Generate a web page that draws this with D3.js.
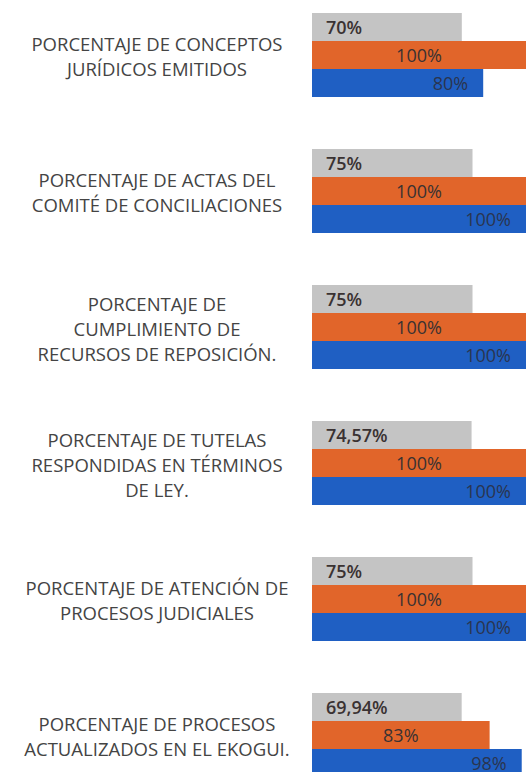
<!DOCTYPE html>
<html>
<head>
<meta charset="utf-8">
<script src="https://cdn.jsdelivr.net/npm/d3@7"></script>
<style>
  html, body { margin: 0; padding: 0; background: #fff; }
  svg { display: block; }
</style>
</head>
<body>
<svg id="chart" width="526" height="772"></svg>
<script>
// indicadores (cada etiqueta partida en lineas)
var categorias = [
    ["PORCENTAJE DE CONCEPTOS", "JURÍDICOS EMITIDOS"],
    ["PORCENTAJE DE ACTAS DEL", "COMITÉ DE CONCILIACIONES"],
    ["PORCENTAJE DE", "CUMPLIMIENTO DE", "RECURSOS DE REPOSICIÓN."],
    ["PORCENTAJE DE TUTELAS", "RESPONDIDAS EN TÉRMINOS", "DE LEY."],
    ["PORCENTAJE DE ATENCIÓN DE", "PROCESOS JUDICIALES"],
    ["PORCENTAJE DE PROCESOS", "ACTUALIZADOS EN EL EKOGUI."]
];
var serieGris = [70, 75, 75, 74.57, 75, 69.94];
var serieNaranja = [100, 100, 100, 100, 100, 83];
var serieAzul = [80, 100, 100, 100, 100, 98];
var series = ["gris", "naranja", "azul"];

var svg = d3.select("#chart");
var fmt = function (v) {
    return (Math.round(v * 100) / 100).toString().replace(".", ",") + "%";
};

// escalas
var x = d3.scaleLinear().domain([0, 100]).range([312, 526]);
var y = d3.scaleBand()
    .domain(d3.range(categorias.length))
    .range([13, 777])
    .paddingInner(52 / 136)
    .paddingOuter(0);
var ySub = d3.scaleBand().domain(series).range([0, y.bandwidth()]);
var color = d3.scaleOrdinal().domain(series).range(["#c4c4c4", "#e1652a", "#1f5fc3"]);

var filas = categorias.map(function (c, i) {
    return {
        i: i,
        lineas: c,
        valores: [
            { s: "gris", v: serieGris[i] },
            { s: "naranja", v: serieNaranja[i] },
            { s: "azul", v: serieAzul[i] }
        ]
    };
});

var g = svg.selectAll("g.grupo")
    .data(filas)
  .enter().append("g")
    .attr("class", "grupo")
    .attr("transform", function (d) { return "translate(0," + y(d.i) + ")"; });

// barras
g.selectAll("rect")
    .data(function (d) { return d.valores; })
  .enter().append("rect")
    .attr("x", x(0))
    .attr("y", function (d) { return ySub(d.s); })
    .attr("width", function (d) { return x(d.v) - x(0); })
    .attr("height", ySub.bandwidth())
    .attr("fill", function (d) { return color(d.s); });

// etiquetas de valor
g.selectAll("text.valor")
    .data(function (d) { return d.valores; })
  .enter().append("text")
    .attr("class", "valor")
    .attr("x", function (d) {
        if (d.s == "gris") return x(0) + 14;
        if (d.s == "naranja") return (x(0) + x(d.v)) / 2;
        return x(d.v) - 15;
    })
    .attr("y", function (d) { return ySub(d.s) + ySub.bandwidth() / 2 + 6.5; })
    .attr("text-anchor", function (d) {
        return d.s == "gris" ? "start" : (d.s == "naranja" ? "middle" : "end");
    })
    .style("font-family", "'Open Sans', sans-serif")
    .style("font-size", "18px")
    .style("font-weight", function (d) { return d.s == "gris" ? "600" : "400"; })
    .style("fill", function (d) { return d.s == "azul" ? "#2a3550" : "#3a3232"; })
    .text(function (d) { return fmt(d.v); });

// etiquetas de categoria
var lh = 25;
g.append("text")
    .attr("class", "cat")
    .attr("text-anchor", "middle")
    .style("font-family", "'Open Sans', sans-serif")
    .style("font-size", "18.5px")
    .style("fill", "#444")
    .selectAll("tspan")
    .data(function (d) { return d.lineas.map(function (l, k) { return { l: l, k: k, n: d.lineas.length }; }); })
  .enter().append("tspan")
    .attr("x", 157)
    .attr("y", function (d) { return y.bandwidth() / 2 + 2 + (d.k - (d.n - 1) / 2) * lh + 6.5; })
    .text(function (d) { return d.l; });
</script>
</body>
</html>
